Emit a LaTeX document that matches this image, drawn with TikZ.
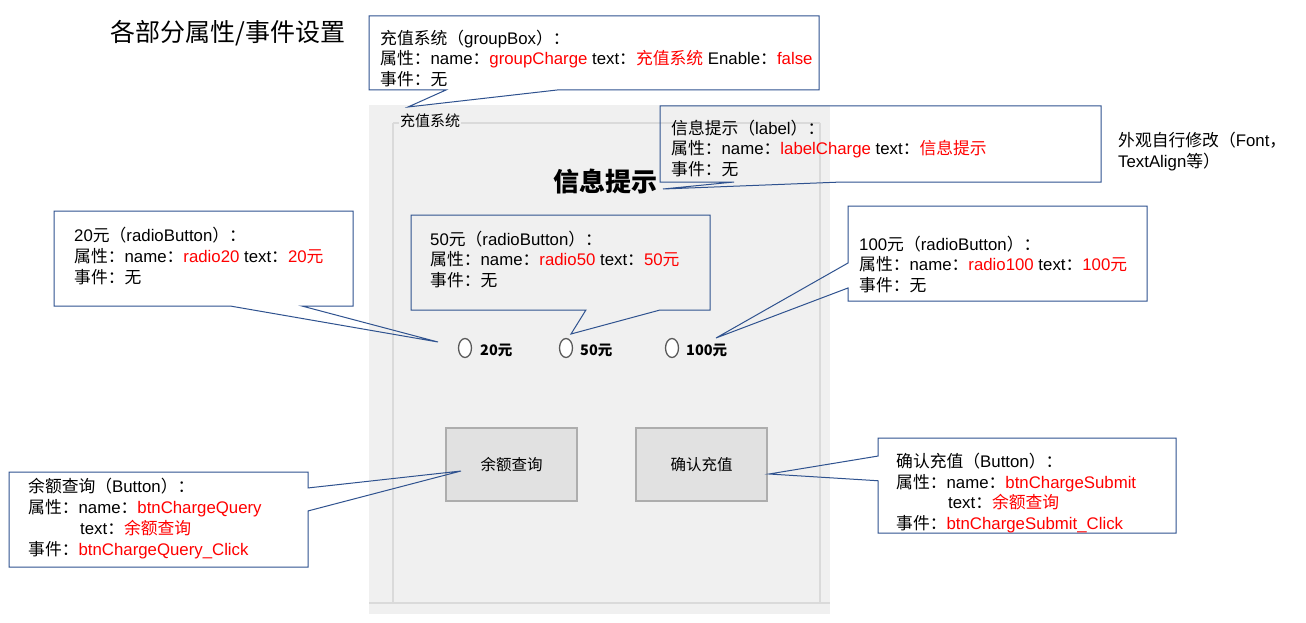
\documentclass[tikz,border=0pt]{standalone}
\usepackage{fontspec}
\setmainfont{Liberation Sans}
\newfontfamily\zhfont{Noto Sans CJK SC}
\definecolor{callblue}{RGB}{47,82,143}
\definecolor{formgray}{RGB}{240,240,240}
\definecolor{gboxgray}{RGB}{218,218,218}
\definecolor{btnfill}{RGB}{225,225,225}
\definecolor{btnedge}{RGB}{173,173,173}
\usetikzlibrary{calc, shapes.geometric}
\newcommand\zh[1]{{\zhfont #1}}
\newcommand\hl[1]{\textcolor{red}{#1}}

\begin{document}
\begin{tikzpicture}[x=1pt, y=-1pt,
  callbox/.style={rectangle, inner sep=0, outer sep=0},
  callline/.style={draw=callblue, line width=1pt, line join=miter},
  calltext/.style={anchor=west, align=left, inner sep=0, font=\fontsize{16.8}{20.7}\selectfont},
  radio/.style={ellipse, draw=black!65, fill=white, line width=1.3pt, minimum width=13, minimum height=19, inner sep=0},
  radiotext/.style={anchor=west, inner sep=0, font=\zhfont\bfseries\fontsize{14.5}{16}\selectfont},
  winbtn/.style={draw=btnedge, fill=btnfill, line width=1.2pt, minimum width=131, minimum height=73, font=\zhfont\fontsize{15.5}{18}\selectfont}]
\useasboundingbox (0,0) rectangle (1306,623);
\fill[white] (0,0) rectangle (1306,623);

\node[font=\zhfont\fontsize{25}{30}\selectfont, inner sep=0] (title) at (228,33) {各部分属性/事件设置};

% the form
\fill[formgray] (369,105) rectangle (830,614);
\draw[gboxgray, line width=1.5pt] (393,123) -- (820,123);
\draw[gboxgray, line width=1.5pt] (393,123) -- (393,603);
\draw[gboxgray, line width=1.5pt] (820,123) -- (820,603);
\draw[gboxgray, line width=2pt] (369,603) -- (830,603);
\node[font=\zhfont\fontsize{15}{18}\selectfont, fill=formgray, inner sep=1] (gcap) at (430,121) {充值系统};
\node[font=\zhfont\bfseries\fontsize{26}{30}\selectfont, inner sep=0] (info) at (605,182) {信息提示};

\node[radio] (r20) at (465,348) {};
\node[radiotext] (l20) at (480,350) {20元};
\node[radio] (r50) at (566,348) {};
\node[radiotext] (l50) at (580,350) {50元};
\node[radio] (r100) at (672,348) {};
\node[radiotext] (l100) at (686,350) {100元};

\node[winbtn] (bquery) at (511.5,464.5) {余额查询};
\node[winbtn] (bsubmit) at (701.5,464.5) {确认充值};

% callouts
\coordinate (tipgroup) at (408,107);
\coordinate (tiplabel) at (663,189);
\coordinate (tip20) at (438,342);
\coordinate (tip50) at (571,334);
\coordinate (tip100) at (716,338);
\coordinate (tipquery) at (461,471);
\coordinate (tipsubmit) at (769,474);

\node[callbox, minimum width=450, minimum height=74] (cgroup) at (594,53) {};
\draw[callline] (cgroup.north west) -- (cgroup.north east) -- (cgroup.south east)
  -- ($(cgroup.south west)!0.418!(cgroup.south east)$) -- (tipgroup)
  -- ($(cgroup.south west)!0.171!(cgroup.south east)$) -- (cgroup.south west) -- cycle;
\node[calltext] (tgroup) at (380,58.5) {\zh{充值系统（}groupBox\zh{）：}\\
  \zh{属性：}name\zh{：}\hl{groupCharge} text\zh{：}\hl{\zh{充值系统}} Enable\zh{：}\hl{false}\\
  \zh{事件：无}};

\node[callbox, minimum width=441, minimum height=76] (clabel) at (880.5,144) {};
\draw[callline] (clabel.north west) -- (clabel.north east) -- (clabel.south east)
  -- ($(clabel.south west)!0.413!(clabel.south east)$) -- (tiplabel)
  -- ($(clabel.south west)!0.168!(clabel.south east)$) -- (clabel.south west) -- cycle;
\node[calltext] (tlabel) at (671,148.5) {\zh{信息提示（}label\zh{）：}\\
  \zh{属性：}name\zh{：}\hl{labelCharge} text\zh{：}\hl{\zh{信息提示}}\\
  \zh{事件：无}};
\node[calltext] (tnote) at (1118,151.5) {\zh{外观自行修改（}Font\zh{，}\\TextAlign\zh{等）}};

\node[callbox, minimum width=299, minimum height=95] (c20) at (203.5,258.5) {};
\draw[callline] (c20.north west) -- (c20.north east) -- (c20.south east)
  -- ($(c20.south west)!0.829!(c20.south east)$) -- (tip20)
  -- ($(c20.south west)!0.589!(c20.south east)$) -- (c20.south west) -- cycle;
\node[calltext] (t20) at (74,256) {20\zh{元（}radioButton\zh{）：}\\
  \zh{属性：}name\zh{：}\hl{radio20} text\zh{：}\hl{20\zh{元}}\\
  \zh{事件：无}};

\node[callbox, minimum width=299, minimum height=95] (c50) at (560.5,262.5) {};
\draw[callline] (c50.north west) -- (c50.north east) -- (c50.south east)
  -- ($(c50.south west)!0.833!(c50.south east)$) -- (tip50)
  -- ($(c50.south west)!0.585!(c50.south east)$) -- (c50.south west) -- cycle;
\node[calltext] (t50) at (430,259.5) {50\zh{元（}radioButton\zh{）：}\\
  \zh{属性：}name\zh{：}\hl{radio50} text\zh{：}\hl{50\zh{元}}\\
  \zh{事件：无}};

\node[callbox, minimum width=299, minimum height=95] (c100) at (997.5,253.5) {};
\draw[callline] (c100.north west) -- (c100.north east) -- (c100.south east) -- (c100.south west)
  -- ($(c100.north west)!0.863!(c100.south west)$) -- (tip100)
  -- ($(c100.north west)!0.6!(c100.south west)$) -- cycle;
\node[calltext] (t100) at (859,264.5) {100\zh{元（}radioButton\zh{）：}\\
  \zh{属性：}name\zh{：}\hl{radio100} text\zh{：}\hl{100\zh{元}}\\
  \zh{事件：无}};

\node[callbox, minimum width=299, minimum height=95] (cquery) at (158.5,519.5) {};
\draw[callline] (cquery.north west) -- (cquery.north east)
  -- ($(cquery.north east)!0.168!(cquery.south east)$) -- (tipquery)
  -- ($(cquery.north east)!0.41!(cquery.south east)$) -- (cquery.south east) -- (cquery.south west) -- cycle;
\node[calltext] (tquery) at (28,518.5) {\zh{余额查询（}Button\zh{）：}\\
  \zh{属性：}name\zh{：}\hl{btnChargeQuery}\\
  \hspace*{52pt}text\zh{：}\hl{\zh{余额查询}}\\
  \zh{事件：}\hl{btnChargeQuery\_Click}};

\node[callbox, minimum width=298, minimum height=95] (csubmit) at (1027,485.5) {};
\draw[callline] (csubmit.north west) -- (csubmit.north east) -- (csubmit.south east) -- (csubmit.south west)
  -- ($(csubmit.north west)!0.45!(csubmit.south west)$) -- (tipsubmit)
  -- ($(csubmit.north west)!0.19!(csubmit.south west)$) -- cycle;
\node[calltext] (tsubmit) at (896,493) {\zh{确认充值（}Button\zh{）：}\\
  \zh{属性：}name\zh{：}\hl{btnChargeSubmit}\\
  \hspace*{52pt}text\zh{：}\hl{\zh{余额查询}}\\
  \zh{事件：}\hl{btnChargeSubmit\_Click}};
\end{tikzpicture}
\end{document}
